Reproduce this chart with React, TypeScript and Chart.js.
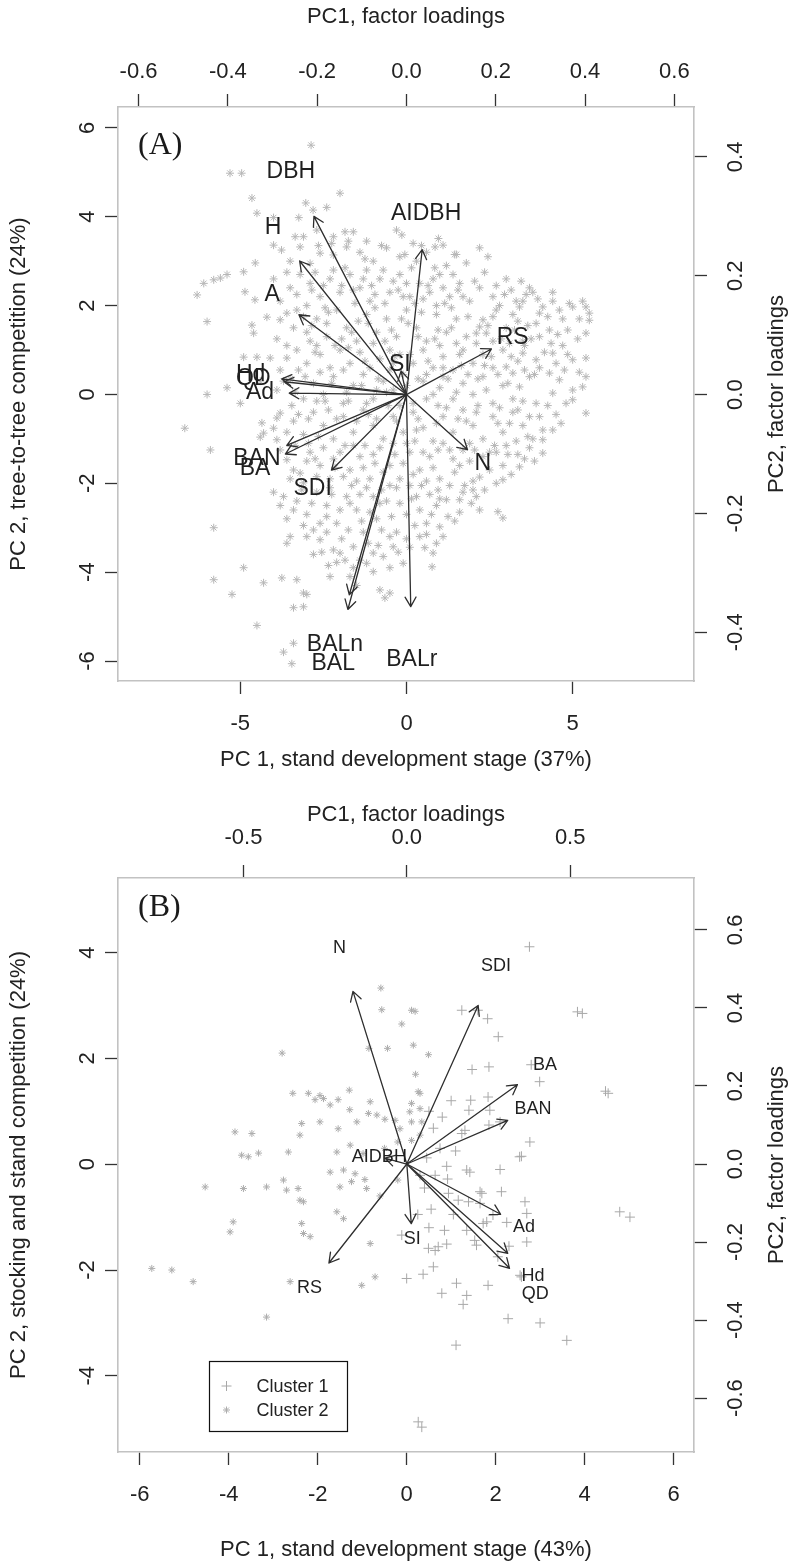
import React, { useEffect, useRef } from "react";
import { Chart, registerables } from "chart.js";

Chart.register(...registerables);

const SANS = '"Liberation Sans", Arial, Helvetica, sans-serif';
const SERIF = '"Liberation Serif", "Times New Roman", Times, serif';
const ARROW_FRAC = 0.8; // biplot arrows are drawn to 0.8 x loading, labels at the loading

type Pt = [number, number];

// ---------------- Panel A ----------------
const tagA = "(A)";
const titleTopA = "PC1, factor loadings";
const titleBottomA = "PC 1, stand development stage (37%)";
const titleLeftA = "PC 2, tree-to-tree competition (24%)";
const titleRightA = "PC2, factor loadings";
const ticksTopA = [-0.6, -0.4, -0.2, 0, 0.2, 0.4, 0.6];
const ticksBottomA = [-5, 0, 5];
const ticksLeftA = [-6, -4, -2, 0, 2, 4, 6];
const ticksRightA = [-0.4, -0.2, 0, 0.2, 0.4];
const varsA = ["DBH", "H", "A", "AIDBH", "RS", "SI", "Hd", "QD", "Ad", "BAN", "BA", "SDI", "N", "BALn", "BAL", "BALr"];
const loadXA = [-0.259, -0.299, -0.301, 0.044, 0.238, -0.015, -0.349, -0.343, -0.328, -0.335, -0.339, -0.21, 0.171, -0.16, -0.164, 0.012];
const loadYA = [0.375, 0.281, 0.168, 0.305, 0.096, 0.05, 0.033, 0.027, 0.003, -0.107, -0.125, -0.159, -0.116, -0.421, -0.452, -0.446];
const scoresA: Pt[] = [
  [-2.87, 5.61], [-5.31, 4.98], [-4.96, 4.98], [-2.0, 4.53], [-4.65, 4.42], [-4.5, 4.08], [-4.0, 3.98], [-3.24, 3.98], [-3.03, 4.31], [-2.4, 4.21], [-2.81, 4.15],
  [-3.1, 3.55], [-2.7, 3.7], [-2.2, 3.55], [-1.85, 3.66], [-1.6, 3.66], [-4.0, 3.36], [-3.76, 3.25], [-3.2, 3.32], [-2.6, 3.18], [-2.2, 3.14], [-1.8, 3.32],
  [-0.3, 3.7], [-0.14, 3.59], [0.96, 3.51], [1.1, 3.36], [0.86, 3.32], [2.2, 3.3], [2.45, 3.1], [1.8, 2.96], [1.2, 2.9], [-1.4, 3.2], [-1.0, 3.0], [-0.6, 3.3],
  [-0.2, 3.1], [0.3, 3.0], [0.6, 3.2], [-2.25, 3.4], [-1.2, 3.45], [0.2, 3.4], [1.5, 3.15], [-4.55, 2.96], [-3.5, 3.0], [-2.9, 2.95],
  [-1.75, 3.45], [-1.25, 3.05], [-0.75, 3.35], [-0.05, 3.15], [0.45, 3.35], [0.85, 2.85], [1.45, 3.15], [-3.35, 3.55], [-2.65, 3.35],
  [-6.3, 2.24], [-6.1, 2.5], [-5.8, 2.58], [-5.6, 2.62], [-5.4, 2.7], [-4.9, 2.76], [-4.86, 2.31], [-4.56, 2.13], [-4.0, 2.6], [-3.5, 2.4], [-3.2, 2.7],
  [-2.9, 2.5], [-2.6, 2.2], [-2.3, 2.6], [-2.0, 2.3], [-1.7, 2.7], [-1.4, 2.4], [-1.1, 2.1], [-0.8, 2.6], [-0.5, 2.3], [-0.2, 2.7], [0.1, 2.2], [0.4, 2.5],
  [0.7, 2.3], [1.0, 2.7], [1.3, 2.2], [1.6, 2.5], [1.9, 2.1], [2.2, 2.4], [2.6, 2.2], [3.0, 2.6], [3.3, 2.1], [3.5, 2.1], [3.7, 2.4], [3.8, 2.3], [4.4, 2.3],
  [4.4, 2.1], [4.9, 2.05], [5.3, 2.1], [-3.8, 2.1], [-3.0, 2.0], [-2.2, 2.8], [-1.2, 2.8], [0.0, 2.5], [0.9, 2.0], [1.4, 2.7], [2.8, 2.0],
  [-2.85, 2.35], [-1.95, 2.45], [-1.05, 2.45], [-0.25, 2.35], [0.65, 2.45], [1.55, 2.35], [2.05, 2.55], [2.95, 2.25], [3.45, 2.55], [3.95, 2.15],
  [-1.55, 2.05], [-0.65, 2.05], [0.25, 2.05], [1.15, 2.05],
  [-3.6, 2.75], [-3.3, 2.25], [-2.75, 2.75], [-2.5, 2.45], [-1.85, 2.85], [-1.6, 2.35], [-1.3, 2.6], [-0.95, 2.25], [-0.7, 2.8], [-0.4, 2.55], [-0.1, 2.2],
  [0.15, 2.85], [0.5, 2.15], [0.8, 2.6], [1.1, 2.4], [1.7, 2.2], [2.35, 2.75], [2.7, 2.45], [3.15, 2.35], [3.6, 2.25],
  [-6.0, 1.64], [-4.65, 1.56], [-4.6, 1.38], [-4.2, 1.74], [-3.8, 1.68], [-3.6, 1.83], [-3.3, 1.9], [-3.0, 1.4], [-2.7, 1.7], [-2.4, 1.3], [-2.1, 1.9],
  [-1.8, 1.5], [-1.5, 1.2], [-1.2, 1.8], [-0.9, 1.4], [-0.6, 1.7], [-0.3, 1.3], [0.0, 1.9], [0.3, 1.5], [0.6, 1.2], [0.9, 1.8], [1.2, 1.4], [1.5, 1.7],
  [1.8, 1.3], [2.1, 1.38], [2.3, 1.68], [2.2, 1.52], [2.4, 1.38], [2.7, 1.9], [3.0, 1.5], [3.2, 1.8], [3.4, 1.97], [3.5, 1.2], [3.9, 1.6], [4.0, 1.83],
  [4.1, 1.97], [4.3, 1.45], [4.7, 1.7], [5.0, 1.97], [5.4, 1.97], [5.5, 1.83], [5.5, 1.67], [5.4, 1.38], [2.6, 1.2], [1.0, 1.1], [-0.5, 1.0], [-2.7, 1.1],
  [-2.85, 1.55], [-2.35, 1.85], [-1.95, 1.25], [-1.45, 1.65], [-0.95, 1.95], [-0.45, 1.45], [0.05, 1.6], [0.45, 1.85], [0.95, 1.45], [1.35, 1.95],
  [1.85, 1.75], [2.45, 1.55], [2.85, 1.25], [3.25, 1.45], [3.75, 1.25], [4.25, 1.75], [4.55, 1.35], [-2.45, 1.95],
  [-2.4, 1.6], [-2.15, 1.1], [-1.65, 1.4], [-1.15, 1.6], [-0.65, 1.2], [-0.15, 1.7], [0.35, 1.3], [0.85, 1.25], [1.35, 1.5], [2.1, 1.15],
  [2.6, 1.75], [3.1, 1.15], [3.35, 1.65], [3.65, 1.55], [4.0, 1.3], [4.35, 1.15], [4.6, 1.9], [4.85, 1.45], [5.15, 1.25], [5.2, 1.7],
  [-3.9, 1.25], [-3.6, 1.1], [-3.4, 1.5], [-3.1, 1.75], [-2.9, 1.2],
  [-4.9, 0.84], [-4.5, 0.84], [-4.1, 0.82], [-3.6, 0.82], [-3.8, 0.55], [-3.3, 1.0], [-3.0, 0.7], [-2.6, 0.9], [-2.3, 0.6], [-2.0, 1.0], [-1.7, 0.7],
  [-1.4, 0.95], [-1.1, 0.6], [-0.8, 0.8], [-0.5, 0.55], [-0.2, 0.9], [0.2, 0.7], [0.5, 1.0], [0.8, 0.6], [1.1, 0.85], [1.4, 0.55], [1.7, 1.0], [2.0, 0.7],
  [2.3, 0.9], [2.6, 0.6], [2.9, 1.0], [3.0, 0.62], [3.2, 0.48], [3.5, 0.93], [3.55, 1.1], [3.9, 0.78], [4.4, 0.93], [5.0, 0.78], [5.4, 0.82], [4.7, 1.1],
  [1.5, 1.15], [-1.0, 1.15], [-3.25, 0.55], [-2.75, 0.95], [-1.75, 1.05], [-1.25, 0.75], [-0.35, 0.85], [0.65, 0.75], [1.65, 0.65], [2.55, 0.85],
  [3.35, 0.75], [4.15, 0.95], [4.75, 0.55],
  [-1.9, 0.55], [-1.35, 0.2], [-0.9, 0.1], [-0.4, 0.7], [0.1, 0.9], [0.6, 0.45], [1.1, 0.6], [1.6, 0.9], [1.85, 0.45], [2.35, 0.65],
  [2.75, 0.45], [3.15, 0.85], [3.55, 0.55], [4.0, 0.6], [4.5, 0.7], [4.85, 0.9], [5.2, 0.5], [-3.7, 0.3], [-3.35, 0.05], [-3.05, 0.4], [-2.6, 0.5],
  [-6.0, 0.0], [-5.4, 0.15], [-5.0, -0.2], [-4.4, 0.3], [-3.9, 0.1], [-3.5, 0.35], [-3.1, -0.1], [-2.8, 0.25], [-2.5, 0.0], [-2.2, 0.4], [-1.9, -0.2],
  [-1.6, 0.2], [-1.3, 0.45], [-1.0, -0.1], [-0.7, 0.3], [-0.4, 0.1], [-0.1, 0.45], [0.2, -0.2], [0.5, 0.3], [0.8, 0.0], [1.1, 0.4], [1.4, -0.1], [1.7, 0.25],
  [2.0, 0.0], [2.3, 0.4], [2.6, -0.2], [2.9, 0.2], [3.4, 0.17], [3.7, 0.4], [4.3, 0.48], [4.6, 0.33], [4.4, 0.03], [5.0, 0.1], [5.3, 0.17], [5.4, 0.4],
  [5.0, -0.12], [3.9, -0.2], [3.2, -0.1], [1.0, 0.15], [-0.2, -0.25], [-2.25, 0.25], [-0.85, 0.35], [0.35, 0.35], [1.25, 0.35], [2.15, 0.35], [3.05, 0.25],
  [3.85, 0.45],
  [-2.45, -0.15], [-2.1, -0.55], [-1.8, 0.05], [-1.5, -0.6], [-1.2, -0.2], [-0.9, -0.55], [-0.6, 0.05], [-0.3, -0.6], [0.0, 0.2], [0.3, -0.8], [0.6, -0.1],
  [0.9, -0.65], [1.2, -0.3], [1.5, 0.05], [1.8, -0.6], [2.1, -0.4], [2.4, 0.1], [-2.7, -0.15],
  [-6.67, -0.76], [-4.35, -0.64], [-4.3, -0.87], [-3.9, -0.53], [-3.8, -0.42], [-4.0, -0.76], [-4.4, -0.96], [-3.9, -1.02], [-3.4, -0.6], [-3.1, -0.9],
  [-2.8, -0.4], [-2.5, -0.7], [-2.2, -1.0], [-1.9, -0.5], [-1.6, -0.85], [-1.3, -0.35], [-1.0, -0.7], [-0.7, -1.0], [-0.4, -0.5], [-0.1, -0.85], [0.2, -0.4],
  [0.5, -0.75], [0.8, -1.05], [1.1, -0.5], [1.4, -0.85], [1.7, -0.35], [2.0, -0.7], [2.3, -1.0], [2.6, -0.5], [2.9, -0.85], [3.2, -0.4], [3.5, -0.7],
  [3.8, -1.0], [4.0, -0.5], [4.4, -0.8], [4.1, -1.02], [5.4, -0.42], [3.3, -1.05], [1.9, -1.1], [0.0, -1.1],
  [-3.45, -0.25], [-2.95, -0.55], [-2.35, -0.35], [-1.75, -0.15], [-1.15, -0.45], [-0.55, -0.25], [0.35, -0.55], [0.95, -0.25], [1.55, -0.55], [2.15, -0.25],
  [2.75, -0.65], [3.35, -0.35], [3.65, -0.95], [4.25, -0.25], [4.65, -0.65],
  [2.8, -0.3], [3.1, -0.65], [3.5, -0.15], [3.7, -0.5], [4.1, -0.8], [4.5, -0.45], [4.8, -0.2], [-3.6, -0.85], [-3.25, -0.45], [-2.95, -1.1], [-2.65, -0.95],
  [-5.9, -1.25], [-3.8, -1.25], [-3.6, -1.47], [-3.4, -1.7], [-3.2, -1.77], [-3.1, -1.99], [-2.9, -1.3], [-2.6, -1.6], [-2.3, -1.9], [-2.0, -1.3], [-1.7, -1.7],
  [-1.4, -1.4], [-1.1, -1.9], [-0.8, -1.2], [-0.5, -1.6], [-0.2, -1.9], [0.1, -1.3], [0.4, -1.7], [0.7, -1.4], [1.0, -1.9], [1.3, -1.25], [1.6, -1.6],
  [1.9, -1.5], [2.2, -1.86], [2.5, -1.3], [2.9, -1.6], [3.4, -1.63], [3.15, -1.8], [2.9, -1.92], [4.1, -1.32], [3.7, -1.2], [0.6, -1.95], [-1.5, -1.95],
  [-3.35, -1.15], [-2.75, -1.45], [-2.15, -1.65], [-1.85, -1.15], [-1.25, -1.15], [-0.95, -1.55], [-0.35, -1.35], [0.25, -1.05], [0.95, -1.25], [1.45, -1.75],
  [2.05, -1.25], [2.65, -1.15], [3.05, -1.35], [3.55, -1.45], [1.75, -2.05],
  [-2.5, -1.2], [-2.2, -1.45], [-1.9, -1.85], [-1.6, -1.15], [-1.3, -1.65], [-1.0, -1.35], [-0.7, -1.75], [-0.4, -1.1], [-0.1, -1.55], [0.2, -1.8],
  [0.5, -1.3], [0.8, -1.65], [1.1, -1.1], [1.4, -1.45], [1.7, -1.25], [2.0, -1.95], [2.3, -1.4], [2.7, -1.3], [3.0, -1.15], [3.35, -1.35], [3.85, -1.5],
  [2.5, -1.7], [-3.5, -1.9], [-3.0, -1.5], [-2.7, -1.85],
  [-4.0, -2.2], [-3.7, -2.3], [-3.8, -2.5], [-3.6, -2.8], [-3.3, -2.4], [-3.0, -2.7], [-2.7, -2.2], [-2.4, -2.5], [-2.1, -2.9], [-1.8, -2.3], [-1.5, -2.6],
  [-1.2, -2.1], [-0.9, -2.8], [-0.6, -2.4], [-0.3, -2.1], [0.0, -2.7], [0.3, -2.3], [0.6, -2.9], [0.9, -2.5], [1.2, -2.37], [1.25, -2.75], [1.6, -2.37],
  [1.7, -2.2], [2.0, -2.15], [2.2, -2.6], [2.7, -2.0], [2.75, -2.64], [2.9, -2.78], [0.75, -2.7], [1.0, -2.98], [-5.8, -3.0], [-2.6, -2.9], [-1.0, -2.3],
  [-3.15, -2.15], [-2.85, -2.45], [-2.25, -2.25], [-1.65, -2.05], [-1.35, -2.85], [-0.75, -2.15], [-0.45, -2.75], [0.15, -2.35], [0.45, -2.05], [0.95, -2.15],
  [1.45, -2.85], [1.95, -2.45], [2.35, -2.15],
  [-2.3, -2.1], [-2.0, -2.6], [-1.7, -2.45], [-1.4, -2.25], [-1.1, -2.65], [-0.8, -2.45], [-0.5, -2.05], [-0.2, -2.45], [0.1, -2.05], [0.4, -2.6],
  [0.7, -2.25], [1.0, -2.35], [1.3, -2.05], [1.6, -2.65], [2.1, -2.3], [-3.4, -2.6], [-3.1, -2.95], [-2.8, -3.05], [-2.4, -2.75],
  [-3.5, -3.2], [-3.6, -3.35], [-3.0, -3.2], [-2.6, -3.27], [-2.2, -3.5], [-2.0, -3.57], [-2.1, -3.78], [-1.6, -3.43], [-1.85, -3.73], [-1.4, -3.73],
  [-1.0, -3.57], [-0.5, -3.2], [-0.4, -3.43], [-1.0, -3.99], [0.8, -3.57], [0.77, -3.88], [1.1, -3.2], [0.4, -3.2], [0.1, -3.44], [-0.7, -3.65], [-1.3, -3.1],
  [-0.1, -3.8], [-2.4, -3.1], [-4.9, -3.9], [-2.55, -3.55], [-1.75, -3.05], [-1.15, -3.35], [-0.75, -3.05], [-0.25, -3.55], [0.25, -2.95], [0.55, -3.45],
  [-2.8, -3.6], [-2.35, -3.85], [-1.95, -3.25], [-1.6, -3.9], [-1.2, -3.8], [-0.85, -3.4], [-0.3, -3.1], [0.0, -3.25], [0.6, -3.15], [0.9, -3.35],
  [-0.5, -3.9], [-1.7, -4.1],
  [-5.8, -4.17], [-5.25, -4.5], [-4.3, -4.24], [-3.75, -4.13], [-3.3, -4.17], [-3.1, -4.47], [-3.0, -4.5], [-3.4, -4.8], [-3.1, -4.78], [-4.5, -5.2],
  [-3.4, -5.6], [-3.7, -5.8], [-3.45, -6.06], [-0.65, -4.58], [-0.5, -4.47], [-0.8, -4.4], [-1.5, -4.3], [-2.3, -4.1],
];

// ---------------- Panel B ----------------
const tagB = "(B)";
const titleTopB = "PC1, factor loadings";
const titleBottomB = "PC 1, stand development stage (43%)";
const titleLeftB = "PC 2, stocking and stand competition (24%)";
const titleRightB = "PC2, factor loadings";
const ticksTopB = [-0.5, 0, 0.5];
const ticksBottomB = [-6, -4, -2, 0, 2, 4, 6];
const ticksLeftB = [-4, -2, 0, 2, 4];
const ticksRightB = [-0.6, -0.4, -0.2, 0, 0.2, 0.4, 0.6];
const varsB = ["N", "SDI", "BA", "BAN", "AIDBH", "Ad", "SI", "RS", "Hd", "QD"];
const loadXB = [-0.206, 0.273, 0.423, 0.386, -0.084, 0.359, 0.017, -0.298, 0.386, 0.393];
const loadYB = [0.553, 0.508, 0.254, 0.14, 0.019, -0.161, -0.191, -0.317, -0.286, -0.334];
const cluster1B: Pt[] = [
  [2.76, 4.11], [1.24, 2.91], [1.6, 2.91], [1.82, 2.75], [2.06, 2.41], [3.84, 2.88], [3.95, 2.85], [1.47, 1.79], [1.85, 1.84], [2.8, 1.88], [2.99, 1.56],
  [4.53, 1.34], [4.47, 1.38], [1.44, 1.21], [1.83, 1.27], [1.4, 1.02], [1.87, 1.02], [0.6, 0.68], [0.8, 0.89], [1.24, 0.58], [1.31, 0.64], [1.85, 0.74],
  [2.1, 0.8], [2.77, 0.42], [2.58, 0.15], [0.3, -0.21], [0.64, -0.21], [0.9, -0.04], [0.92, -0.28], [1.35, -0.11], [1.42, -0.15], [2.1, -0.1], [2.13, -0.52],
  [2.54, 0.14], [1.65, -0.52], [1.69, -0.55], [0.94, -0.55], [1.16, -0.68], [1.39, -0.71], [1.65, -0.74], [1.8, -1.09], [1.35, -1.25], [1.57, -1.53],
  [1.53, -1.44], [1.72, -1.12], [1.94, -0.96], [2.66, -0.71], [2.7, -0.93], [2.7, -1.47], [2.58, -2.13], [2.55, -2.1], [4.79, -0.9], [5.02, -1.0],
  [-0.11, -1.34], [0.0, -2.16], [0.37, -2.08], [0.6, -1.94], [0.64, -1.63], [0.49, -1.59], [0.71, -1.56], [0.9, -1.51], [0.79, -2.44], [1.12, -2.25],
  [1.35, -2.48], [1.27, -2.65], [1.83, -2.29], [1.11, -3.42], [2.28, -2.92], [3.0, -3.0], [3.6, -3.33], [0.26, -4.87], [0.34, -4.97], [0.45, 0.12],
  [0.75, 0.3], [1.1, 0.25], [0.4, -0.45], [0.55, -0.85], [0.25, -0.95], [1.05, -0.95], [0.85, -1.25], [0.5, -1.2], [2.25, -1.1], [2.05, -1.75], [2.3, -1.55],
  [1.0, 1.2], [0.5, 1.0],
];
const cluster2B: Pt[] = [
  [-0.58, 3.33], [-0.56, 2.92], [0.11, 2.91], [0.19, 2.89], [-0.11, 2.65], [-2.8, 2.1], [-0.85, 2.19], [-0.43, 2.19], [0.15, 2.25], [0.49, 2.07], [0.2, 1.7],
  [0.26, 1.37], [0.11, 1.15], [-2.56, 1.34], [-2.21, 1.34], [-1.95, 1.3], [-1.87, 1.24], [-2.06, 1.22], [-1.72, 1.12], [-1.54, 1.22], [-1.29, 1.4],
  [-1.28, 1.03], [-0.82, 1.18], [-0.86, 0.96], [-0.67, 0.93], [-0.49, 0.85], [-0.26, 0.83], [0.07, 0.99], [0.3, 1.05], [0.11, 0.8], [0.34, 0.8], [-0.15, 0.67],
  [-3.86, 0.61], [-3.48, 0.58], [-2.36, 0.77], [-1.95, 0.8], [-2.4, 0.55], [-1.54, 0.67], [-1.12, 0.8], [-3.71, 0.17], [-3.56, 0.14], [-3.33, 0.21],
  [-2.66, 0.23], [-1.57, 0.23], [-1.27, 0.36], [-0.98, 0.2], [-4.53, -0.43], [-3.67, -0.46], [-3.15, -0.43], [-2.77, -0.3], [-2.7, -0.49], [-2.44, -0.46],
  [-2.4, -0.68], [-2.32, -0.71], [-1.5, -0.43], [-1.72, -0.15], [-1.42, -0.11], [-1.16, -0.18], [-0.94, -0.29], [-0.9, -0.46], [-1.24, -0.33], [-3.9, -1.09],
  [-3.97, -1.28], [-2.36, -1.12], [-2.32, -1.31], [-2.17, -1.37], [-1.57, -0.9], [-1.42, -1.03], [-0.82, -1.5], [-5.73, -1.97], [-5.28, -2.0], [-4.8, -2.22],
  [-2.62, -2.22], [-1.01, -2.29], [-0.71, -2.13], [-3.15, -2.89], [0.3, 1.34], [-0.2, 0.42], [0.11, 0.45], [0.3, 0.55], [-0.5, 0.3], [-0.2, -0.3], [-0.6, -0.6],
];

// ---------------- types & specs ----------------
type Series = { name: string; points: Pt[]; marker: "star" | "cross"; radius: number; color: string };
type Frame = {
  left: number; right: number; top: number; bottom: number;
  topTickPad: number; topTitlePad: number; bottomTickPad: number; bottomTitlePad: number; tagDy: number;
};
interface Panel {
  tag: string;
  titleTop: string; titleBottom: string; titleLeft: string; titleRight: string;
  ticksTop: number[]; ticksBottom: number[]; ticksLeft: number[]; ticksRight: number[];
  xLim: Pt; x2Lim: Pt; yLim: Pt; y2Lim: Pt;
  vars: string[]; loadX: number[]; loadY: number[]; varFontSize: number;
  series: Series[]; legend: boolean; frame: Frame;
}

const PANEL_A: Panel = {
  tag: tagA, titleTop: titleTopA, titleBottom: titleBottomA, titleLeft: titleLeftA, titleRight: titleRightA,
  ticksTop: ticksTopA, ticksBottom: ticksBottomA, ticksLeft: ticksLeftA, ticksRight: ticksRightA,
  xLim: [-8.68, 8.65], x2Lim: [-0.646, 0.644], yLim: [-6.45, 6.47], y2Lim: [-0.482, 0.484],
  vars: varsA, loadX: loadXA, loadY: loadYA, varFontSize: 23,
  series: [{ name: "Plots", points: scoresA, marker: "star", radius: 4, color: "#b7b7b7" }],
  legend: false,
  frame: { left: 118, right: 95, top: 107, bottom: 101, topTickPad: 8.8, topTitlePad: 3.8, bottomTickPad: 16.8, bottomTitlePad: 8.8, tagDy: 39 },
};

const PANEL_B: Panel = {
  tag: tagB, titleTop: titleTopB, titleBottom: titleBottomB, titleLeft: titleLeftB, titleRight: titleRightB,
  ticksTop: ticksTopB, ticksBottom: ticksBottomB, ticksLeft: ticksLeftB, ticksRight: ticksRightB,
  xLim: [-6.49, 6.46], x2Lim: [-0.884, 0.879], yLim: [-5.44, 5.41], y2Lim: [-0.738, 0.733],
  vars: varsB, loadX: loadXB, loadY: loadYB, varFontSize: 18,
  series: [
    { name: "Cluster 1", points: cluster1B, marker: "cross", radius: 5, color: "#a8a8a8" },
    { name: "Cluster 2", points: cluster2B, marker: "star", radius: 3.5, color: "#adadad" },
  ],
  legend: true,
  frame: { left: 118, right: 95, top: 96, bottom: 112, topTickPad: 13.8, topTitlePad: 19.8, bottomTickPad: 16.8, bottomTitlePad: 0.8, tagDy: 30 },
};

// ---------------- drawing helpers ----------------
function drawArrow(ctx: CanvasRenderingContext2D, x0: number, y0: number, x1: number, y1: number, head: number) {
  const ang = Math.atan2(y1 - y0, x1 - x0);
  const a = Math.PI / 6;
  ctx.beginPath();
  ctx.moveTo(x0, y0);
  ctx.lineTo(x1, y1);
  ctx.moveTo(x1 - head * Math.cos(ang - a), y1 - head * Math.sin(ang - a));
  ctx.lineTo(x1, y1);
  ctx.lineTo(x1 - head * Math.cos(ang + a), y1 - head * Math.sin(ang + a));
  ctx.stroke();
}

function drawMarker(ctx: CanvasRenderingContext2D, kind: "star" | "cross", x: number, y: number, r: number, color: string) {
  ctx.save();
  ctx.strokeStyle = color;
  ctx.lineWidth = 1;
  ctx.beginPath();
  ctx.moveTo(x - r, y); ctx.lineTo(x + r, y);
  ctx.moveTo(x, y - r); ctx.lineTo(x, y + r);
  if (kind === "star") {
    const d = r * Math.SQRT1_2;
    ctx.moveTo(x - d, y - d); ctx.lineTo(x + d, y + d);
    ctx.moveTo(x - d, y + d); ctx.lineTo(x + d, y - d);
  }
  ctx.stroke();
  ctx.restore();
}

function makePlugin(p: Panel) {
  return {
    id: "biplot",
    afterDatasetsDraw(chart: any) {
      const ctx: CanvasRenderingContext2D = chart.ctx;
      const sx = chart.scales.x2, sy = chart.scales.y2;
      const ox = sx.getPixelForValue(0), oy = sy.getPixelForValue(0);
      ctx.save();
      ctx.strokeStyle = "#2e2e2e";
      ctx.lineWidth = 1.3;
      ctx.lineCap = "round";
      ctx.lineJoin = "round";
      p.vars.forEach((_, i) => {
        const tx = sx.getPixelForValue(p.loadX[i] * ARROW_FRAC);
        const ty = sy.getPixelForValue(p.loadY[i] * ARROW_FRAC);
        drawArrow(ctx, ox, oy, tx, ty, 11);
      });
      ctx.fillStyle = "#1f1f1f";
      ctx.font = `${p.varFontSize}px ${SANS}`;
      ctx.textAlign = "center";
      ctx.textBaseline = "middle";
      p.vars.forEach((v, i) => {
        ctx.fillText(v, sx.getPixelForValue(p.loadX[i]), sy.getPixelForValue(p.loadY[i]));
      });
      ctx.restore();
    },
    afterDraw(chart: any) {
      const ctx: CanvasRenderingContext2D = chart.ctx;
      const ca = chart.chartArea;
      const sy = chart.scales.y, sy2 = chart.scales.y2;
      ctx.save();
      ctx.fillStyle = "#222";
      ctx.font = `22px ${SANS}`;
      ctx.textAlign = "center";
      ctx.textBaseline = "middle";
      const rot = (txt: string, x: number, y: number) => {
        ctx.save();
        ctx.translate(x, y);
        ctx.rotate(-Math.PI / 2);
        ctx.fillText(txt, 0, 0);
        ctx.restore();
      };
      p.ticksLeft.forEach((v) => rot(String(v), ca.left - 30, sy.getPixelForValue(v)));
      p.ticksRight.forEach((v) => rot(v.toFixed(1), ca.right + 42, sy2.getPixelForValue(v)));
      const cy = (ca.top + ca.bottom) / 2;
      rot(p.titleLeft, 19, cy);
      rot(p.titleRight, chart.width - 12, cy);

      ctx.font = `32px ${SERIF}`;
      ctx.textAlign = "left";
      ctx.fillStyle = "#1a1a1a";
      ctx.fillText(p.tag, ca.left + 20, ca.top + p.frame.tagDy);

      if (p.legend) {
        const lx = ca.left + 91, ly = ca.top + 483;
        ctx.strokeStyle = "#111";
        ctx.lineWidth = 1.2;
        ctx.strokeRect(lx + 0.5, ly + 0.5, 138, 70);
        ctx.font = `18px ${SANS}`;
        ctx.fillStyle = "#222";
        ctx.textAlign = "left";
        p.series.forEach((s, i) => {
          const yy = ly + 25 + i * 24;
          drawMarker(ctx, s.marker, lx + 17.5, yy, s.marker === "cross" ? 5 : 3.5, s.color);
          ctx.fillText(s.name, lx + 47.5, yy + 1);
        });
      }
      ctx.restore();
    },
  };
}

function buildChart(canvas: HTMLCanvasElement, p: Panel) {
  const fixed = (vals: number[]) => (axis: any) => {
    axis.ticks = vals.map((v) => ({ value: v }));
  };
  const grid = { drawOnChartArea: false, drawTicks: true, tickLength: 13, tickColor: "#333", tickWidth: 1.3, color: "#333" };
  const border = { display: true, color: "#c2c2c2", width: 1.6 };
  const font = { family: SANS, size: 22 };
  const f = p.frame;

  return new Chart(canvas, {
    type: "scatter",
    data: {
      datasets: p.series.map((s) => ({
        label: s.name,
        data: s.points.map(([x, y]) => ({ x, y })),
        pointStyle: s.marker,
        pointRadius: s.radius,
        pointHoverRadius: s.radius,
        borderColor: s.color,
        backgroundColor: s.color,
        pointBorderWidth: 1,
        borderWidth: 1,
        xAxisID: "x",
        yAxisID: "y",
        showLine: false,
      })),
    },
    options: {
      responsive: false,
      animation: false,
      devicePixelRatio: 1,
      events: [],
      layout: { padding: 0 },
      plugins: { legend: { display: false }, tooltip: { enabled: false } },
      scales: {
        x: {
          type: "linear", position: "bottom", min: p.xLim[0], max: p.xLim[1],
          afterBuildTicks: fixed(p.ticksBottom),
          afterFit: (s: any) => { s.height = f.bottom; },
          grid, border,
          ticks: { font, color: "#222", padding: f.bottomTickPad, maxRotation: 0, minRotation: 0, autoSkip: false, callback: (v: any) => String(v) },
          title: { display: true, text: p.titleBottom, font, color: "#222", padding: { top: 0, bottom: f.bottomTitlePad } },
        },
        x2: {
          type: "linear", position: "top", min: p.x2Lim[0], max: p.x2Lim[1],
          afterBuildTicks: fixed(p.ticksTop),
          afterFit: (s: any) => { s.height = f.top; },
          grid, border,
          ticks: { font, color: "#222", padding: f.topTickPad, maxRotation: 0, minRotation: 0, autoSkip: false, callback: (v: any) => Number(v).toFixed(1) },
          title: { display: true, text: p.titleTop, font, color: "#222", padding: { top: f.topTitlePad, bottom: 0 } },
        },
        y: {
          type: "linear", position: "left", min: p.yLim[0], max: p.yLim[1],
          afterBuildTicks: fixed(p.ticksLeft),
          afterFit: (s: any) => { s.width = f.left; },
          grid, border,
          ticks: { display: false },
        },
        y2: {
          type: "linear", position: "right", min: p.y2Lim[0], max: p.y2Lim[1],
          afterBuildTicks: fixed(p.ticksRight),
          afterFit: (s: any) => { s.width = f.right; },
          grid, border,
          ticks: { display: false },
        },
      },
    } as any,
    plugins: [makePlugin(p)],
  });
}

function BiplotCanvas({ panel }: { panel: Panel }) {
  const ref = useRef<HTMLCanvasElement>(null);
  useEffect(() => {
    if (!ref.current) return;
    const chart = buildChart(ref.current, panel);
    return () => chart.destroy();
  }, [panel]);
  return <canvas ref={ref} width={789} height={782} style={{ display: "block", width: 789, height: 782 }} />;
}

export default function App() {
  return (
    <div style={{ position: "absolute", left: 0, top: 0, width: 789, height: 1564, background: "#fff" }}>
      <BiplotCanvas panel={PANEL_A} />
      <BiplotCanvas panel={PANEL_B} />
    </div>
  );
}
